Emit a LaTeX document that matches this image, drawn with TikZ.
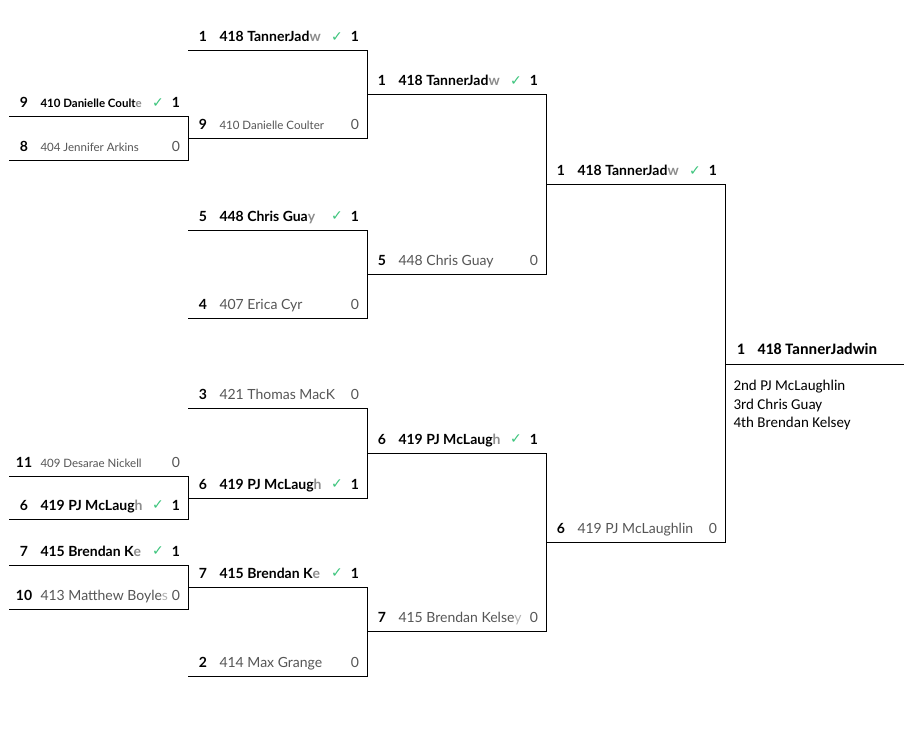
\documentclass[tikz,border=0pt]{standalone}
\usepackage{fontspec}
\setmainfont{Lato}
\newfontfamily\ticksym{DejaVu Sans}
\newfontfamily\calfont{Carlito}
\definecolor{winok}{HTML}{3CC47C}
\definecolor{lose}{HTML}{555555}

% last letter of a cut-off name
\newcommand{\fadeout}[1]{\textcolor{.!45}{#1}}

% one slot of a match: #1 name style, #2 id, #3 x, #4 y, #5 seed, #6 player
\newcommand{\winrow}[6][won]{%
  \coordinate (#2) at (#3,#4);
  \node[seed] (#2-seed) at ([xshift=15pt, yshift=9pt]#2) {#5};
  \node[#1] (#2-name) at ([xshift=31pt, yshift=9pt]#2) {#6};
  \node[tick] (#2-tick) at ([xshift=149pt, yshift=14pt]#2) {✓};
  \node[seed] (#2-score) at ([xshift=167pt, yshift=9pt]#2) {1};
}
\newcommand{\loserow}[6][lost]{%
  \coordinate (#2) at (#3,#4);
  \node[seed] (#2-seed) at ([xshift=15pt, yshift=9pt]#2) {#5};
  \node[#1] (#2-name) at ([xshift=31pt, yshift=9pt]#2) {#6};
  \node[zero] (#2-score) at ([xshift=167pt, yshift=9pt]#2) {0};
}

\begin{document}
\begin{tikzpicture}[x=1pt, y=-1pt, line width=1pt]
    \tikzstyle{seed}=[font=\fontsize{14}{16}\selectfont\bfseries, inner sep=0pt, anchor=base]
    \tikzstyle{won}=[font=\fontsize{14}{16}\selectfont\bfseries, inner sep=0pt, anchor=base west]
    \tikzstyle{wonsmall}=[won, font=\fontsize{11.5}{13}\selectfont\bfseries]
    \tikzstyle{lost}=[font=\fontsize{14}{16}\selectfont, text=lose, inner sep=0pt, anchor=base west]
    \tikzstyle{lostsmall}=[lost, font=\fontsize{11.5}{13}\selectfont]
    \tikzstyle{zero}=[font=\fontsize{14}{16}\selectfont, text=lose, inner sep=0pt, anchor=base]
    \tikzstyle{tick}=[font=\ticksym\fontsize{14}{14}\selectfont\bfseries, text=winok, inner sep=0pt]
    \useasboundingbox (0,0) rectangle (915,730);

    % play-in round
    \winrow[wonsmall]{pa1}{9}{117}{9}{410 Danielle Coult\fadeout{e}}
    \loserow[lostsmall]{pa2}{9}{161}{8}{404 Jennifer Arkins}
    \loserow[lostsmall]{pb1}{9}{476}{11}{409 Desarae Nickell}
    \winrow{pb2}{9}{519}{6}{419 PJ McLaug\fadeout{h}}
    \winrow{pc1}{9}{565}{7}{415 Brendan K\fadeout{e}}
    \loserow{pc2}{9}{609}{10}{413 Matthew Boyle\fadeout{s}}

    % first round
    \winrow{q1a}{188}{51}{1}{418 TannerJad\fadeout{w}}
    \loserow[lostsmall]{q1b}{188}{139}{9}{410 Danielle Coulter}
    \winrow{q2a}{188}{230}{5}{448 Chris Gua\fadeout{y}}
    \loserow{q2b}{188}{318}{4}{407 Erica Cyr}
    \loserow{q3a}{188}{408}{3}{421 Thomas MacK}
    \winrow{q3b}{188}{498}{6}{419 PJ McLaug\fadeout{h}}
    \winrow{q4a}{188}{587}{7}{415 Brendan K\fadeout{e}}
    \loserow{q4b}{188}{676}{2}{414 Max Grange}

    % semifinals
    \winrow{s1a}{367}{95}{1}{418 TannerJad\fadeout{w}}
    \loserow{s1b}{367}{274}{5}{448 Chris Guay}
    \winrow{s2a}{367}{453}{6}{419 PJ McLaug\fadeout{h}}
    \loserow{s2b}{367}{631}{7}{415 Brendan Kelse\fadeout{y}}

    % final
    \winrow{f1}{546}{185}{1}{418 TannerJad\fadeout{w}}
    \loserow{f2}{546}{542}{6}{419 PJ McLaughlin}

    \foreach \a/\b in {pa1/pa2, pb1/pb2, pc1/pc2, q1a/q1b, q2a/q2b, q3a/q3b, q4a/q4b, s1a/s1b, s2a/s2b, f1/f2}
        \draw (\a) -- ++(179,0) |- (\b);

    % champion
    \coordinate (ch) at (725,364);
    \draw (ch) -- ++(179,0);
    \node[inner sep=0pt, anchor=base, font=\calfont\fontsize{16}{17}\selectfont\bfseries] (ch-seed) at ([xshift=16pt, yshift=10pt]ch) {1};
    \node[inner sep=0pt, anchor=base west, font=\calfont\fontsize{16}{17}\selectfont\bfseries] (ch-name) at ([xshift=32pt, yshift=10pt]ch) {418 TannerJadwin};
    \node[inner sep=0pt, anchor=north west, align=left, font=\calfont\fontsize{15}{18.5}\selectfont] (places) at ([xshift=8pt, yshift=-16pt]ch) {2nd PJ McLaughlin\\3rd Chris Guay\\4th Brendan Kelsey};
\end{tikzpicture}
\end{document}
